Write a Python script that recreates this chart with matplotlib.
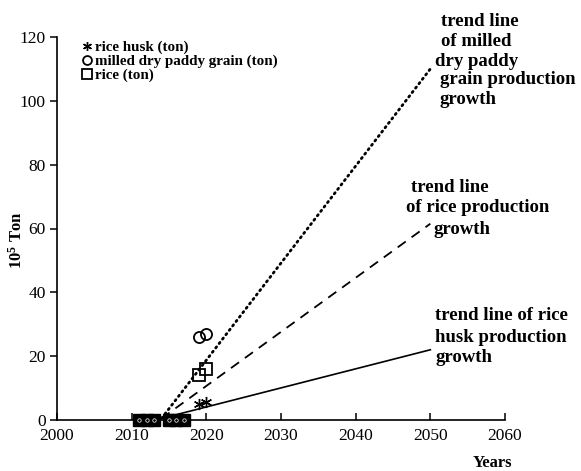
import matplotlib
matplotlib.use("Agg")
import matplotlib.pyplot as plt
import numpy as np

plt.rcParams['font.family'] = ['Liberation Serif', 'DejaVu Serif']
plt.rcParams['mathtext.fontset'] = 'custom'
plt.rcParams['mathtext.rm'] = 'Liberation Serif'
plt.rcParams['mathtext.bf'] = 'Liberation Serif:bold'

# Observed production (10^5 ton)
years = [2019, 2020]
husk = [5.0, 5.5]
paddy = [26.0, 27.0]
rice = [14.0, 16.0]

# Early years recorded at (near) zero
early_years = [2011, 2012, 2013, 2015, 2016, 2017]
early_vals = [0, 0, 0, 0, 0, 0]

# Trend lines: start and end year, with the matching values
trend_years = [2014, 2050]
trend_paddy = [0.5, 110.0]
trend_rice = [0.5, 61.5]
trend_husk = [0.5, 22.0]

x_ticks = [2000, 2010, 2020, 2030, 2040, 2050, 2060]
y_ticks = [0, 20, 40, 60, 80, 100, 120]

fig = plt.figure(figsize=(5.81, 4.71), dpi=100)
ax = fig.add_axes([57 / 581, 1 - 420 / 471, (505 - 57) / 581, (420 - 37) / 471])

ax.plot(trend_years, trend_paddy, color='black', lw=2.0, linestyle=(0, (0.5, 1.5)),
        dash_capstyle='round')
ax.plot(trend_years, trend_rice, color='black', lw=1.3, linestyle=(0, (5.5, 4)))
ax.plot(trend_years, trend_husk, color='black', lw=1.2, linestyle='-')

star = (6, 2, 0)
ax.plot(years, husk, linestyle='none', marker=star, ms=8, mec='black', mew=1.0,
        label='rice husk (ton)')
ax.plot(years, paddy, linestyle='none', marker='o', ms=8, mfc='none', mec='black',
        mew=1.3, label='milled dry paddy grain (ton)')
ax.plot(years, rice, linestyle='none', marker='s', ms=9, mfc='none', mec='black',
        mew=1.3, label='rice (ton)')

# Overlapping markers for the near-zero years
ax.plot(early_years, early_vals, linestyle='none', marker='s', ms=8.4, mfc='black',
        mec='black', clip_on=False, zorder=5)
ax.plot(early_years, early_vals, linestyle='none', marker='o', ms=2.5, mfc='none',
        mec='white', mew=0.5, clip_on=False, zorder=6)

ax.set_xlim(2000, 2060)
ax.set_ylim(0, 120)
ax.set_xticks(x_ticks)
ax.set_yticks(y_ticks)
ax.spines['top'].set_visible(False)
ax.spines['right'].set_visible(False)
for s in ['left', 'bottom']:
    ax.spines[s].set_linewidth(1.2)
ax.tick_params(axis='x', direction='in', length=5, width=1.1, labelsize=12.5, pad=6)
ax.tick_params(axis='y', direction='out', length=5, width=1.1, labelsize=12.5, pad=3)

leg = ax.legend(loc='upper left', bbox_to_anchor=(0.04, 1.01), frameon=False,
                handlelength=0.6, handletextpad=0.25, labelspacing=0.02,
                borderpad=0, prop={'weight': 'bold', 'size': 10.8}, markerscale=0.8)

fig.text(17 / 581, 1 - 240 / 471, r'$\mathbf{10^{5}}$ Ton', rotation=90,
         ha='center', va='center', fontsize=12, fontweight='bold')
fig.text(492 / 581, 1 - 463 / 471, 'Years', ha='center', va='center',
         fontsize=12, fontweight='bold')

tk = dict(fontsize=13.5, fontweight='bold', ha='left', va='center')
for txt, x, y in [('trend line', 441, 21), ('of milled', 441, 41),
                  ('dry paddy', 435, 61), ('grain production', 440, 80),
                  ('growth', 440, 99)]:
    fig.text(x / 581, 1 - y / 471, txt, **tk)
for txt, x, y in [('trend line', 411, 187), ('of rice production', 406, 208),
                  ('growth', 433, 230)]:
    fig.text(x / 581, 1 - y / 471, txt, **tk)
for txt, x, y in [('trend line of rice', 435, 316), ('husk production', 435, 337),
                  ('growth', 435, 358)]:
    fig.text(x / 581, 1 - y / 471, txt, **tk)

fig.savefig('out.png', dpi=100)
